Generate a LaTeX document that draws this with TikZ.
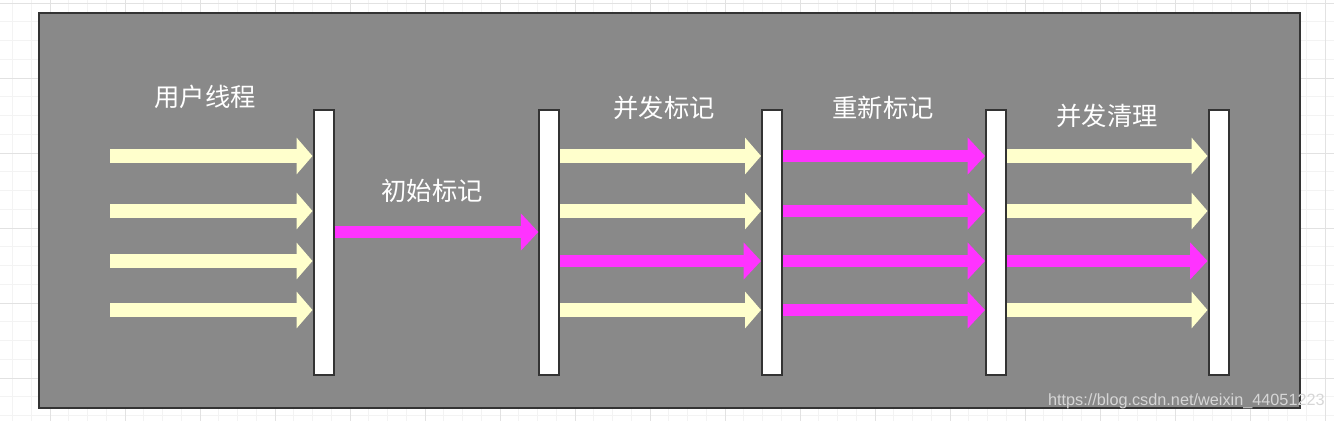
\documentclass[tikz,border=0pt]{standalone}
\usepackage{fontspec}
\setmainfont{Liberation Sans}
\newfontfamily\cjk{Noto Sans CJK SC}
\usetikzlibrary{arrows.meta}

\definecolor{panelgray}{HTML}{898989}
\definecolor{framegray}{HTML}{333333}
\definecolor{threadyellow}{HTML}{FFFFCC}
\definecolor{markpink}{HTML}{FF33FF}
\definecolor{gridminor}{HTML}{F3F3F3}
\definecolor{gridmajor}{HTML}{E2E2E2}
\definecolor{marklight}{HTML}{D6D6D6}

\begin{document}
\begin{tikzpicture}[x=0.75pt,y=-0.75pt,
	pausebar/.style={draw=framegray,line width=1.5pt,fill=white,minimum width=15pt,minimum height=198.5pt,inner sep=0pt},
	thread/.style={draw=threadyellow,line width=10pt,-{Triangle[length=12pt,width=27pt]}},
	remark/.style={draw=markpink,line width=9.5pt,-{Triangle[length=13pt,width=27pt]}},
	phase/.style={text=white,font=\cjk\fontsize{19}{21}\selectfont}]

	\useasboundingbox (0,0) rectangle (1334,421);

	% background grid
	\foreach \gx in {12.5,31.25,...,1334} \draw[gridminor,line width=0.75pt] (\gx,0) -- (\gx,421);
	\foreach \gy in {3,21.75,...,421} \draw[gridminor,line width=0.75pt] (0,\gy) -- (1334,\gy);
	\foreach \gx in {50,125,...,1334} \draw[gridmajor,line width=0.75pt] (\gx,0) -- (\gx,421);
	\foreach \gy in {3,78,...,421} \draw[gridmajor,line width=0.75pt] (0,\gy) -- (1334,\gy);

	\draw[fill=panelgray,draw=framegray,line width=1.5pt] (38.5,12.5) rectangle (1300,408);

	% stop-the-world bars
	\node[pausebar] (b1) at (323.5,242.5) {};
	\node[pausebar] (b2) at (549.3,242.5) {};
	\node[pausebar] (b3) at (772,242.5)   {};
	\node[pausebar] (b4) at (996,242.5)   {};
	\node[pausebar] (b5) at (1218.5,242.5){};

	\coordinate (r0) at (0,232);
	\coordinate (u1) at (110,156);
	\coordinate (u2) at (110,211);
	\coordinate (u3) at (110,261);
	\coordinate (u4) at (110,310);

	% user threads
	\draw[thread] (u1) -- (u1 -| b1.west);
	\draw[thread] (u2) -- (u2 -| b1.west);
	\draw[thread] (u3) -- (u3 -| b1.west);
	\draw[thread] (u4) -- (u4 -| b1.west);

	% initial mark
	\draw[remark] (r0 -| b1.east) -- (r0 -| b2.west);

	% concurrent mark
	\draw[thread] (u1 -| b2.east) -- (u1 -| b3.west);
	\draw[thread] (u2 -| b2.east) -- (u2 -| b3.west);
	\draw[remark] (u3 -| b2.east) -- (u3 -| b3.west);
	\draw[thread] (u4 -| b2.east) -- (u4 -| b3.west);

	% remark
	\draw[remark] (u1 -| b3.east) -- (u1 -| b4.west);
	\draw[remark] (u2 -| b3.east) -- (u2 -| b4.west);
	\draw[remark] (u3 -| b3.east) -- (u3 -| b4.west);
	\draw[remark] (u4 -| b3.east) -- (u4 -| b4.west);

	% concurrent sweep
	\draw[thread] (u1 -| b4.east) -- (u1 -| b5.west);
	\draw[thread] (u2 -| b4.east) -- (u2 -| b5.west);
	\draw[remark] (u3 -| b4.east) -- (u3 -| b5.west);
	\draw[thread] (u4 -| b4.east) -- (u4 -| b5.west);

	\node[phase] (tuser)  at (205,97)  {用户线程};
	\node[phase] (tinit)  at (432,191) {初始标记};
	\node[phase] (tconc)  at (664,108) {并发标记};
	\node[phase] (tremk)  at (883,108) {重新标记};
	\node[phase] (tsweep) at (1107,116){并发清理};

	\node[text=marklight,font=\fontsize{12.2}{13}\selectfont,anchor=east,inner sep=0pt] (wm) at (1325,401) {https://blog.csdn.net/weixin\_44051223};

\end{tikzpicture}
\end{document}
